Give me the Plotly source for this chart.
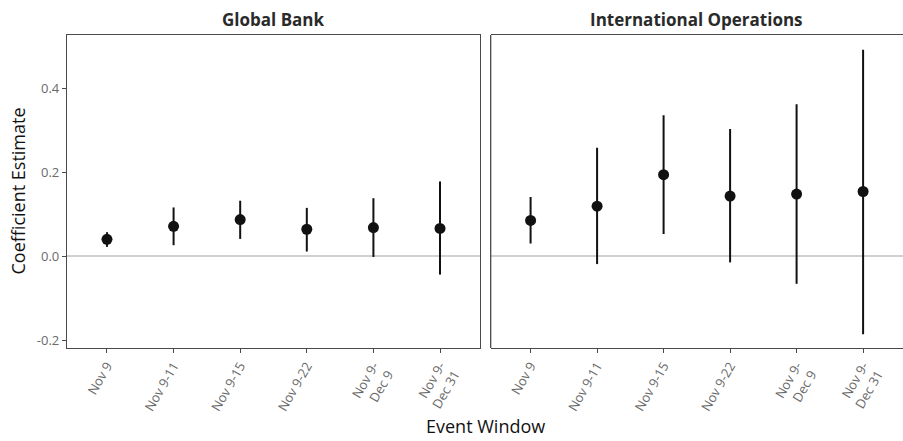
import plotly.graph_objects as go

windows = ["Nov 9", "Nov 9-11", "Nov 9-15", "Nov 9-22", "Nov 9-<br>Dec 9", "Nov 9-<br>Dec 31"]
panels = ["Global Bank", "International Operations"]

gb_est = [0.040, 0.071, 0.087, 0.064, 0.068, 0.066]
gb_low = [0.022, 0.026, 0.041, 0.011, -0.002, -0.044]
gb_high = [0.057, 0.116, 0.132, 0.115, 0.138, 0.178]

io_est = [0.085, 0.119, 0.194, 0.143, 0.148, 0.154]
io_low = [0.030, -0.019, 0.053, -0.015, -0.066, -0.186]
io_high = [0.141, 0.258, 0.336, 0.303, 0.362, 0.492]

y_ticks = [-0.2, 0.0, 0.2, 0.4]
y_ticktext = ["-0.2", "0.0", "0.2", "0.4"]

FONT = "Open Sans"
fig = go.Figure()

for est, low, high, xa, ya in [(gb_est, gb_low, gb_high, "x", "y"),
                               (io_est, io_low, io_high, "x2", "y2")]:
    fig.add_trace(go.Scatter(
        x=windows, y=est, xaxis=xa, yaxis=ya, mode="markers",
        marker=dict(size=11, color="#111111"),
        error_y=dict(type="data", symmetric=False,
                     array=[h - e for h, e in zip(high, est)],
                     arrayminus=[e - l for e, l in zip(est, low)],
                     color="#111111", thickness=2, width=0),
        showlegend=False, hoverinfo="skip"))

xcommon = dict(type="category", range=[-0.6, 5.6], showgrid=False, showline=True,
               mirror=True, linecolor="#4a4a4a", linewidth=1.3, ticks="outside",
               ticklen=4, tickcolor="#4a4a4a", tickangle=-60,
               tickfont=dict(family=FONT, size=13, color="#6a6a6a"), zeroline=False)
ycommon = dict(range=[-0.219, 0.527], showgrid=False,
               linecolor="#4a4a4a", linewidth=1.3, zeroline=True,
               zerolinecolor="#d0d0d0", zerolinewidth=1.5,
               tickvals=y_ticks, ticktext=y_ticktext)

fig.update_layout(
    width=903, height=441,
    margin=dict(l=67, r=0, t=35, b=93),
    plot_bgcolor="white", paper_bgcolor="white",
    font=dict(family=FONT, color="#222222"),
    xaxis=dict(domain=[0, 0.494], anchor="y", **xcommon),
    xaxis2=dict(domain=[0.5068, 1], anchor="y2", **xcommon),
    yaxis=dict(anchor="x", showline=True, mirror=True, ticks="outside", ticklen=4,
               tickcolor="#4a4a4a",
               tickfont=dict(family=FONT, size=13, color="#6a6a6a"), **ycommon),
    yaxis2=dict(anchor="x2", matches="y", showline=False, showticklabels=False,
                ticks="", **ycommon),
    shapes=[dict(type="line", xref="x2 domain", yref="y2 domain", x0=0, x1=0, y0=0, y1=1,
                 line=dict(color="#4a4a4a", width=1.3))],
    annotations=[
        dict(text="<b>" + panels[0] + "</b>", x=0.247, y=1, xref="paper", yref="paper",
             xanchor="center", yanchor="middle", yshift=16, showarrow=False,
             font=dict(family=FONT, size=17, color="#2a2a2a")),
        dict(text="<b>" + panels[1] + "</b>", x=0.7534, y=1, xref="paper", yref="paper",
             xanchor="center", yanchor="middle", yshift=16, showarrow=False,
             font=dict(family=FONT, size=17, color="#2a2a2a")),
        dict(text="Event Window", x=0.5, y=0, xref="paper", yref="paper",
             xanchor="center", yanchor="bottom", yshift=-92, showarrow=False,
             font=dict(family=FONT, size=18, color="#111111")),
        dict(text="Coefficient Estimate", x=0, y=0.5, xref="paper", yref="paper",
             xanchor="center", yanchor="middle", xshift=-50, textangle=-90, showarrow=False,
             font=dict(family=FONT, size=18, color="#111111")),
    ],
)

fig.write_html("out.html", config={"displayModeBar": False},
               post_script="document.body.style.margin='0';document.body.style.overflow='hidden';")
